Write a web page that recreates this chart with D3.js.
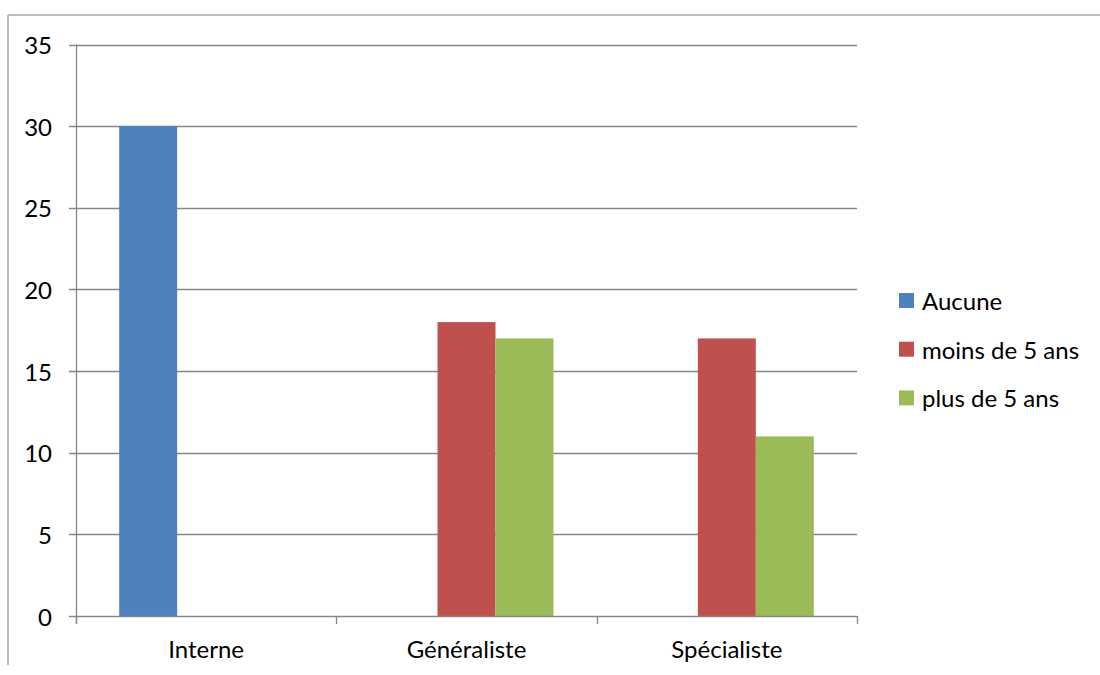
<!DOCTYPE html>
<html>
<head>
<meta charset="utf-8">
<script src="https://cdn.jsdelivr.net/npm/d3@7"></script>
<style>
  html, body { margin: 0; padding: 0; background: #fff; }
  svg { display: block; }
  text { font-family: Lato, "Open Sans", sans-serif; fill: #000; }
</style>
</head>
<body>
<svg id="chart" width="1100" height="675"></svg>
<script>
const categories = ["Interne", "Généraliste", "Spécialiste"];
const seriesNames = ["Aucune", "moins de 5 ans", "plus de 5 ans"];
const aucune = [30, 0, 0];
const moins5 = [0, 18, 17];
const plus5 = [0, 17, 11];
const yTicks = [0, 5, 10, 15, 20, 25, 30, 35];
const colors = ["#4F81BD", "#C0504D", "#9BBB59"];

(function () {
const seriesValues = [aucune, moins5, plus5];
const data = categories.map((c, i) => ({
  cat: c,
  vals: seriesNames.map((s, j) => ({ key: s, value: seriesValues[j][i], color: colors[j] }))
}));

const svg = d3.select("#chart");
const plotLeft = 76, plotRight = 857, plotTop = 44.5, plotBottom = 616;
const fontSize = 24;

// outer frame (top and left edges visible)
svg.append("line").attr("x1", 8).attr("x2", 1100).attr("y1", 15).attr("y2", 15)
  .attr("stroke", "#a6a6a6").attr("stroke-width", 1.5);
svg.append("line").attr("x1", 8).attr("x2", 8).attr("y1", 15).attr("y2", 665)
  .attr("stroke", "#a6a6a6").attr("stroke-width", 1.5);

const x0 = d3.scaleBand().domain(categories).range([plotLeft, plotRight]).paddingInner(0).paddingOuter(0);
const x1 = d3.scaleBand().domain(seriesNames).range([0, x0.bandwidth()]).paddingInner(0).paddingOuter(0.745);
const y = d3.scaleLinear().domain([0, 35]).range([plotBottom, plotTop]);

const gridColor = "#868686";

// gridlines
svg.append("g").selectAll("line").data(yTicks.filter(t => t > 0)).join("line")
  .attr("x1", plotLeft - 7).attr("x2", plotRight)
  .attr("y1", d => Math.round(y(d)) + 0.5).attr("y2", d => Math.round(y(d)) + 0.5)
  .attr("stroke", gridColor).attr("stroke-width", 1.3);

// y tick labels
svg.append("g").selectAll("text").data(yTicks).join("text")
  .attr("x", 52).attr("y", d => y(d))
  .attr("text-anchor", "end").attr("dominant-baseline", "central")
  .style("font-size", fontSize + "px")
  .text(d => d);

// bars
const groups = svg.append("g").selectAll("g").data(data).join("g")
  .attr("transform", d => `translate(${x0(d.cat)},0)`);
groups.selectAll("rect").data(d => d.vals).join("rect")
  .attr("x", d => x1(d.key))
  .attr("width", x1.bandwidth())
  .attr("y", d => y(d.value))
  .attr("height", d => y(0) - y(d.value))
  .attr("fill", d => d.color);

// x axis line and ticks
svg.append("line").attr("x1", plotLeft - 7).attr("x2", plotRight)
  .attr("y1", plotBottom + 0.5).attr("y2", plotBottom + 0.5)
  .attr("stroke", gridColor).attr("stroke-width", 1.3);
const boundaries = categories.map(c => x0(c)).concat([plotRight]);
svg.append("g").selectAll("line").data(boundaries).join("line")
  .attr("x1", d => Math.round(d) + 0.5).attr("x2", d => Math.round(d) + 0.5)
  .attr("y1", plotBottom).attr("y2", plotBottom + 8)
  .attr("stroke", gridColor).attr("stroke-width", 1.3);

// y axis line
svg.append("line").attr("x1", plotLeft + 0.5).attr("x2", plotLeft + 0.5)
  .attr("y1", plotTop).attr("y2", plotBottom + 8)
  .attr("stroke", gridColor).attr("stroke-width", 1.3);

// category labels
svg.append("g").selectAll("text").data(categories).join("text")
  .attr("x", d => x0(d) + x0.bandwidth() / 2).attr("y", 658)
  .attr("text-anchor", "middle")
  .style("font-size", fontSize + "px")
  .text(d => d);

// legend
const legend = svg.append("g").selectAll("g").data(seriesNames).join("g")
  .attr("transform", (d, i) => `translate(899, ${300.5 + i * 48.7})`);
legend.append("rect").attr("x", 0).attr("y", -7.5).attr("width", 15).attr("height", 15)
  .attr("fill", (d, i) => colors[i]);
legend.append("text").attr("x", 23).attr("y", 0).attr("dominant-baseline", "central")
  .style("font-size", fontSize + "px")
  .text(d => d);
})();
</script>
</body>
</html>
